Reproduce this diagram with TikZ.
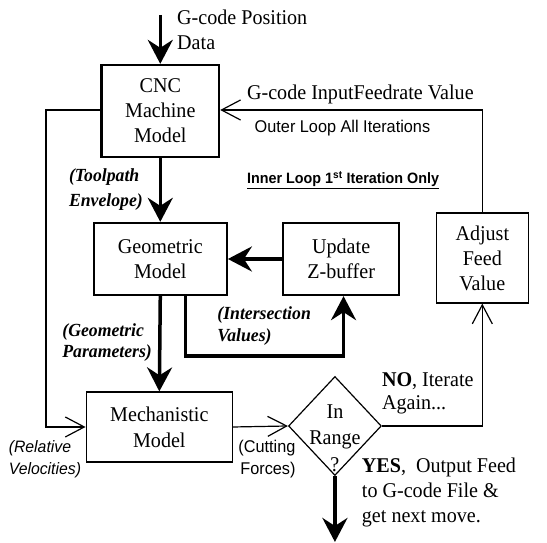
\documentclass[tikz,border=0pt]{standalone}
\usepackage{fontspec}
\setmainfont{Liberation Serif}
\setsansfont{Liberation Sans}
\usetikzlibrary{arrows.meta,shapes.geometric}
\newcommand{\bodyfnt}{\fontsize{21}{25}\selectfont}
\newcommand{\bifnt}{\bfseries\itshape\fontsize{18.5}{21}\selectfont}
\newcommand{\sffnt}{\sffamily\fontsize{17}{20}\selectfont}
\begin{document}
\begin{tikzpicture}[x=1pt,y=-1pt,xscale=0.957,transform shape,
  thickbox/.style={draw,line width=2.3pt,align=center,font=\bodyfnt,inner sep=0pt},
  thinbox/.style={draw,line width=1.2pt,align=center,font=\bodyfnt,inner sep=0pt},
  bigarrow/.style={line width=3.5pt,-{Stealth[length=24pt,width=25pt,inset=8pt]}},
  thinarrow/.style={line width=1.2pt,-{Straight Barb[length=19pt,width=20pt,line width=1.2pt]}},
  lbl/.style={anchor=base west,inner sep=0pt},
  line join=miter
]
\useasboundingbox (0,0) rectangle (571.6,543);

% boxes
\node[thickbox,minimum width=123pt,minimum height=92pt] (cnc) at (167.5,111) {CNC\\Machine\\Model};
\node[thickbox,minimum width=139pt,minimum height=72pt] (geo) at (167.5,259) {Geometric\\Model};
\node[thickbox,minimum width=121pt,minimum height=72pt] (upd) at (356.5,259) {Update\\Z-buffer};
\node[thinbox,minimum width=153pt,minimum height=70pt,font=\fontsize{21}{26}\selectfont] (mech) at (166.5,427) {Mechanistic\\Model};
\node[thinbox,minimum width=96pt,minimum height=90pt] (adj) at (504,258) {Adjust\\Feed\\Value};
\node[draw,diamond,line width=1.2pt,minimum width=97pt,minimum height=99pt,inner sep=0pt] (rng) at (350,426) {};
\node[align=center,font=\fontsize{21}{26.5}\selectfont,inner sep=0pt] (rngtxt) at (350,438) {In\\Range\\?};

% helper coordinates
\coordinate (top) at (167.5,15);
\coordinate (bot) at (350,542);
\coordinate (fy) at (0,110);
\coordinate (lx) at (48,0);

% heavy connectors
\draw[bigarrow] (top) -- (cnc.north);
\draw[bigarrow] (cnc.south) -- (geo.north);
\draw[bigarrow] (upd.west) -- (geo.east);
\draw[bigarrow] (geo.south) -- (mech.north);
\draw[bigarrow] ([xshift=26.5pt]geo.south) -- ++(0,60) -| ([xshift=2.5pt]upd.south);
\draw[bigarrow] (rng.south) -- (bot);

% thin connectors
\draw[thinarrow] (rng.east) -- (rng.east -| adj.south) -- (adj.south);
\draw[thinarrow] (mech.east) -- (rng.west);
\draw[thinarrow] (adj.north) -- (adj.north |- fy) -- (cnc.east |- fy);
\draw[thinarrow] (cnc.west |- fy) -- (lx |- fy) -- (lx |- mech.west) -- (mech.west);

% labels
\node[lbl,font=\bodyfnt] (gpos1) at (185,25) {G-code Position};
\node[lbl,font=\bodyfnt] (gpos2) at (185,50) {Data};
\node[lbl,font=\bodyfnt] (gfeed) at (258,100) {G-code InputFeedrate Value};
\node[lbl,font=\sffnt] (outer) at (266,133) {Outer Loop All Iterations};
\node[lbl,font=\sffamily\bfseries\fontsize{15}{18}\selectfont] (inner) at (258,184) {\underline{Inner Loop 1\textsuperscript{st} Iteration Only}};
\node[lbl,font=\bifnt] (tp1) at (72,182) {(Toolpath};
\node[lbl,font=\bifnt] (tp2) at (72,207) {Envelope)};
\node[lbl,font=\bifnt] (gp1) at (65,337) {(Geometric};
\node[lbl,font=\bifnt] (gp2) at (65,358) {Parameters)};
\node[lbl,font=\bifnt] (iv1) at (227,320) {(Intersection};
\node[lbl,font=\bifnt] (iv2) at (227,342) {Values)};
\node[lbl,font=\sffnt] (cf1) at (249,453) {(Cutting};
\node[lbl,font=\sffnt] (cf2) at (251,475) {Forces)};
\node[lbl,font=\sffamily\itshape\fontsize{16.5}{20}\selectfont] (rv1) at (9,453) {(Relative};
\node[lbl,font=\sffamily\itshape\fontsize{16.5}{20}\selectfont] (rv2) at (9,475) {Velocities)};
\node[lbl,font=\bodyfnt] (no1) at (399,387) {\textbf{NO}, Iterate};
\node[lbl,font=\bodyfnt] (no2) at (399,410) {Again...};
\node[lbl,font=\bodyfnt] (yes1) at (378,473) {\textbf{YES},\ \ Output Feed};
\node[lbl,font=\bodyfnt] (yes2) at (378,498) {to G-code File \&};
\node[lbl,font=\bodyfnt] (yes3) at (378,523) {get next move.};
\end{tikzpicture}
\end{document}
